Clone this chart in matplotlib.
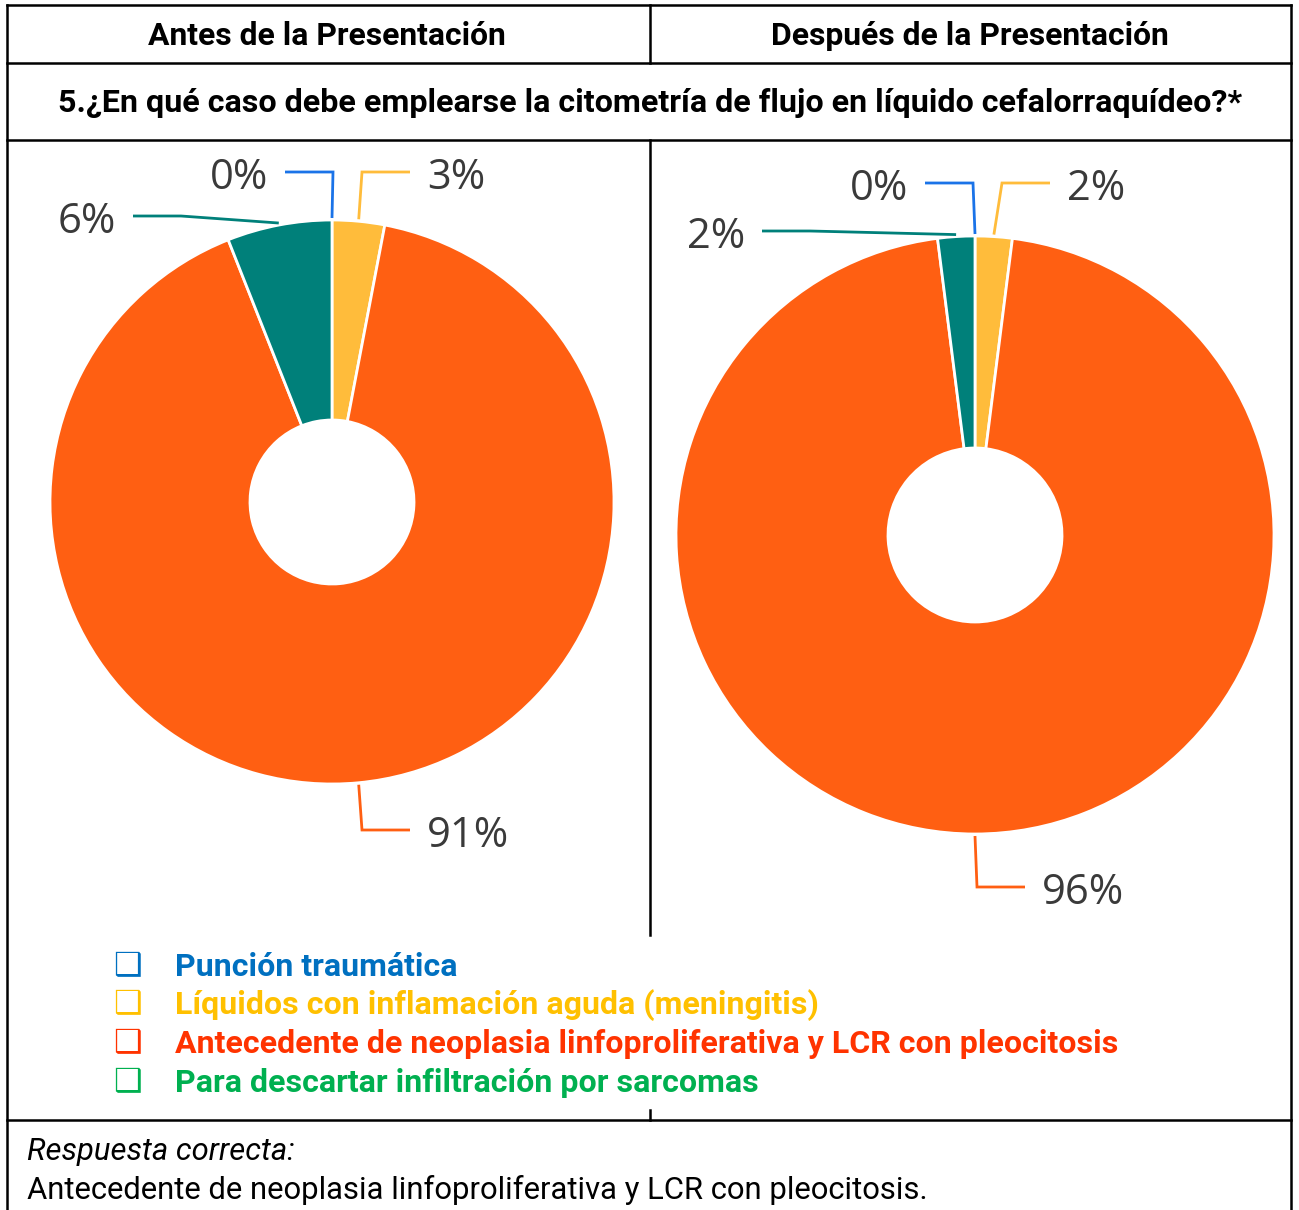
import matplotlib
matplotlib.use('Agg')
import matplotlib.pyplot as plt
import numpy as np

# ---------------- data ----------------
categories = ['Punción traumática',
              'Líquidos con inflamación aguda (meningitis)',
              'Antecedente de neoplasia linfoproliferativa y LCR con pleocitosis',
              'Para descartar infiltración por sarcomas']
before_values = [0, 3, 91, 6]
after_values = [0, 2, 96, 2]
panel_titles = ['Antes de la Presentación', 'Después de la Presentación']
question = '5.¿En qué caso debe emplearse la citometría de flujo en líquido cefalorraquídeo?*'
answer_label = 'Respuesta correcta:'
answer_text = 'Antecedente de neoplasia linfoproliferativa y LCR con pleocitosis.'

# ---------------- style ----------------
slice_colors = ['#1A73E8', '#FFBC3B', '#FF5F12', '#00807A']
legend_colors = ['#0070C0', '#FFC000', '#FF3300', '#00B050']
label_color = '#3A3A3A'
HEAD_FONT = ['Roboto', 'DejaVu Sans']
PCT_FONT = ['Open Sans', 'DejaVu Sans']

W, H = 1299, 1210
fig = plt.figure(figsize=(W / 100, H / 100), dpi=100)
ax = fig.add_axes([0, 0, 1, 1])
renderer = fig.canvas.get_renderer()


def Y(y):
    return H - y


def fit(t, width):
    bb = t.get_window_extent(renderer)
    t.set_fontsize(t.get_fontsize() * width / bb.width)
    return t.get_fontsize()


# pie geometry (pixels): center, outer radius, inner radius, label connection offsets
pies = [
    dict(values=before_values, center=(332, 502), r=282, ri=82,
         conn=[(-47, -330), (78, -330), (78, 328), (-199, -286)]),
    dict(values=after_values, center=(975, 535), r=299, ri=87,
         conn=[(-50, -352), (75, -352), (50, 352), (-213, -304)]),
]

for p in pies:
    cx, cy = p['center']
    vals = p['values']
    ax.pie(vals, colors=slice_colors, startangle=90, counterclock=False,
           radius=p['r'], center=(cx, Y(cy)),
           wedgeprops=dict(width=p['r'] - p['ri'], edgecolor='white', linewidth=2))
    total = float(sum(vals))
    cum = 0.0
    for i, v in enumerate(vals):
        mid = (cum + v / 2.0) / total * 2 * np.pi  # clockwise from top
        cum += v
        ax_x = cx + (p['r'] + 2) * np.sin(mid)
        ax_y = cy - (p['r'] + 2) * np.cos(mid)
        dx, dy = p['conn'][i]
        kx, ky = cx + dx, cy + dy
        side = 1 if dx > 0 else -1
        ex = kx - side * 48
        ax.plot([ax_x, ex, kx], [Y(ax_y), Y(ky), Y(ky)], color=slice_colors[i],
                lw=2.0, solid_capstyle='butt', solid_joinstyle='miter')
        ax.text(kx + side * 17, Y(ky + 6), f'{v}%', ha='left' if side > 0 else 'right',
                va='center', color=label_color, family=PCT_FONT, fontsize=30)

ax.set_xlim(0, W)
ax.set_ylim(0, H)
ax.set_aspect('auto')
ax.axis('off')

# ---------------- table lines ----------------
lw = 1.8
for yy in [5, 63, 140, 1120]:
    ax.plot([7, 1291], [Y(yy), Y(yy)], color='black', lw=lw, solid_capstyle='projecting')
for xx in [7, 1291]:
    ax.plot([xx, xx], [Y(5), Y(1215)], color='black', lw=lw)
for y0, y1 in [(5, 63), (140, 935), (1110, 1120)]:
    ax.plot([650, 650], [Y(y0), Y(y1)], color='black', lw=lw)

# ---------------- header ----------------
t1 = ax.text(327, Y(45), panel_titles[0], ha='center', va='baseline',
             family=HEAD_FONT, weight='bold', fontsize=16)
fs = fit(t1, 359)
ax.text(970, Y(45), panel_titles[1], ha='center', va='baseline',
        family=HEAD_FONT, weight='bold', fontsize=fs)
tq = ax.text(650, Y(112), question, ha='center', va='baseline',
             family=HEAD_FONT, weight='bold', fontsize=fs)
fit(tq, 1186)

# ---------------- legend ----------------
base_y = [976, 1014, 1053, 1092]
lt = []
for i, (c, col) in enumerate(zip(categories, legend_colors)):
    t = ax.text(175, Y(base_y[i]), c, ha='left', va='baseline', color=col,
                family=HEAD_FONT, weight='bold', fontsize=16)
    lt.append(t)
    ax.text(128, Y(base_y[i] - 1), '\u2751', ha='center', va='baseline', color=col,
            family=['DejaVu Sans'], weight='bold', fontsize=23)
lfs = fit(lt[2], 943)
for t in lt:
    t.set_fontsize(lfs)

# ---------------- footer ----------------
ta = ax.text(27, Y(1160), answer_label, ha='left', va='baseline', style='italic',
             family=HEAD_FONT, fontsize=16)
tb = ax.text(27, Y(1199), answer_text, ha='left', va='baseline',
             family=HEAD_FONT, fontsize=16)
ffs = fit(tb, 900)
ta.set_fontsize(ffs)

fig.savefig('out.png', dpi=100, facecolor='white')
